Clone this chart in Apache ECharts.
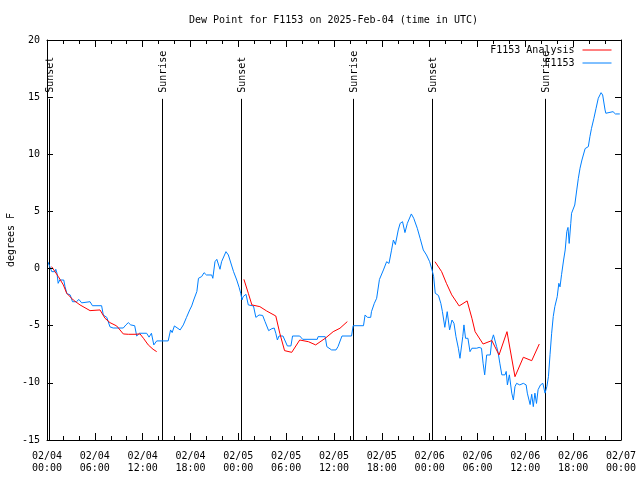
<!DOCTYPE html>
<html><head><meta charset="utf-8">
<script src="https://cdn.jsdelivr.net/npm/echarts@6/dist/echarts.min.js"></script>
<style>html,body{margin:0;padding:0;background:#fff}#c{width:640px;height:480px}</style>
</head><body><div id="c"></div>
<script>
// hours since 2025-02-04 00:00 UTC
const xTickLabels = ['02/04\n00:00','02/04\n06:00','02/04\n12:00','02/04\n18:00','02/05\n00:00','02/05\n06:00','02/05\n12:00','02/05\n18:00','02/06\n00:00','02/06\n06:00','02/06\n12:00','02/06\n18:00','02/07\n00:00'];
const sunHours = [0.25, 14.43, 24.3, 38.42, 48.3, 62.47];
const sunNames = ['Sunset','Sunrise','Sunset','Sunrise','Sunset','Sunrise'];
const obsData = [
[0.1,0.6],[0.35,0.17],[0.6,-0.27],[1.0,-0.27],[1.1,-0.06],[1.25,-0.4],[1.4,-1.29],[1.6,-1.0],[2.1,-1.0],[2.26,-1.58],
[2.5,-2.2],[2.9,-2.3],[3.2,-2.9],[3.7,-2.9],[4.0,-2.7],[4.35,-3.0],[5.4,-2.9],[5.7,-3.25],[6.85,-3.25],[7.06,-4.06],
[7.5,-4.27],[7.9,-5.1],[8.1,-4.93],[8.3,-5.2],[9.57,-5.2],[9.9,-4.93],[10.2,-4.73],[10.5,-4.93],[11.0,-5.0],[11.25,-5.9],
[11.6,-5.66],[12.5,-5.66],[12.8,-6.0],[13.1,-5.66],[13.4,-6.68],[13.76,-6.33],[15.2,-6.33],[15.5,-5.37],[15.7,-5.6],[15.98,-5.02],
[16.7,-5.37],[17.1,-4.93],[17.5,-4.27],[17.9,-3.62],[18.15,-3.27],[18.4,-2.75],[18.8,-2.0],[19.0,-0.85],[19.4,-0.7],[19.7,-0.36],
[20.0,-0.56],[20.66,-0.56],[20.8,-0.85],[21.07,0.6],[21.3,0.81],[21.7,-0.06],[21.9,0.6],[22.45,1.48],[22.75,1.19],[23.0,1.1],
[23.4,-0.27],[23.8,-1.0],[24.1,-1.65],[24.3,-2.16],[24.46,-2.75],[24.6,-2.46],[24.96,-2.25],[25.25,-3.18],[25.9,-3.27],[26.2,-4.27],
[26.6,-4.06],[27.05,-4.1],[27.35,-4.64],[27.8,-5.43],[28.2,-5.26],[28.5,-5.2],[28.7,-5.66],[28.9,-6.25],[29.1,-5.9],[29.6,-5.9],
[30.15,-6.77],[30.6,-6.77],[30.8,-5.9],[31.7,-5.9],[32.07,-6.19],[33.9,-6.19],[34.0,-5.96],[34.9,-5.96],[35.1,-6.83],[35.7,-7.12],
[36.25,-7.12],[36.5,-6.83],[37.0,-5.9],[38.2,-5.9],[38.4,-5.0],[39.7,-5.0],[39.9,-4.06],[40.2,-4.27],[40.6,-4.27],[40.7,-3.77],
[41.06,-3.04],[41.35,-2.6],[41.7,-0.95],[42.2,-0.12],[42.6,0.6],[42.9,0.45],[43.2,1.55],[43.45,2.5],[43.7,2.1],[44.06,3.38],
[44.3,3.96],[44.6,4.1],[44.9,3.15],[45.2,3.96],[45.4,4.0],[45.7,4.78],[46.0,4.4],[46.45,3.52],[46.8,2.65],[47.2,1.63],
[47.6,1.19],[48.0,0.6],[48.3,-0.12],[48.5,-0.7],[48.7,-2.16],[49.1,-2.35],[49.4,-3.04],[49.6,-3.77],[49.9,-5.14],[50.2,-3.77],
[50.5,-5.37],[50.8,-4.5],[51.05,-4.79],[51.3,-5.96],[51.6,-6.97],[51.8,-7.85],[52.0,-7.85],[52.15,-5.96],[52.3,-4.93],[52.5,-6.1],
[52.8,-6.1],[53.06,-7.27],[53.3,-6.97],[53.9,-6.97],[54.2,-6.9],[54.5,-6.97],[54.7,-8.28],[54.9,-9.3],[55.15,-7.56],[55.35,-7.7],
[55.6,-7.56],[55.8,-6.25],[56.0,-5.8],[56.2,-5.8],[56.4,-6.83],[56.6,-7.4],[56.8,-8.28],[57.05,-9.3],[57.45,-9.3],[57.6,-9.0],
[57.75,-10.18],[58.0,-9.3],[58.3,-10.9],[58.5,-11.5],[58.7,-10.33],[58.9,-10.04],[59.3,-10.18],[59.75,-10.04],[60.1,-10.18],[60.25,-10.9],
[60.6,-11.9],[60.8,-11.0],[61.0,-12.08],[61.2,-10.9],[61.4,-11.8],[61.6,-10.6],[61.9,-10.18],[62.2,-10.04],[62.35,-10.18],[62.47,-10.9],
[62.7,-10.33],[62.9,-9.46],[63.1,-7.5],[63.3,-5.66],[63.5,-4.2],[63.7,-3.33],[64.0,-2.46],[64.2,-1.29],[64.35,-1.6],[64.55,-0.5],
[64.8,0.75],[65.0,1.63],[65.2,3.23],[65.35,3.6],[65.5,2.2],[65.7,3.96],[65.8,4.84],[66.2,5.56],[66.45,6.88],[66.65,7.9],
[66.86,8.78],[67.1,9.5],[67.25,9.4],[67.5,10.5],[67.9,10.67],[68.1,11.54],[68.3,12.27],[68.6,13.15],[68.87,14.02],[69.15,14.9],
[69.5,15.39],[69.7,15.19],[70.0,13.88],[70.1,13.59],[70.3,13.73],[71.0,13.73],[71.3,13.53],[71.85,13.53]
];
const anaSeg1 = [[0.58,0.17],[1.42,-0.7],[2.05,-1.43],[2.47,-2.16],[3.3,-2.75],[4.14,-3.18],[5.4,-3.68],[6.65,-3.62],[7.28,-4.35],[7.9,-4.73],[8.74,-5.02],[9.57,-5.72],[10.2,-5.75],[11.04,-5.75],[11.67,-5.72],[12.1,-6.1],[12.7,-6.68],[13.3,-7.06],[13.76,-7.27]];
const anaSeg2 = [[24.7,-0.94],[25.25,-2.16],[25.7,-3.18],[26.7,-3.33],[27.55,-3.71],[28.7,-4.15],[29.2,-5.66],[29.8,-7.18],[30.7,-7.33],[31.7,-6.25],[32.8,-6.4],[33.7,-6.68],[34.9,-6.1],[35.9,-5.52],[36.75,-5.22],[37.67,-4.64]];
const anaSeg3 = [[48.67,0.6],[49.5,-0.27],[50.1,-1.29],[50.77,-2.3],[51.7,-3.27],[52.7,-2.83],[53.3,-4.35],[53.7,-5.52],[54.7,-6.6],[55.8,-6.3],[56.7,-7.56],[57.7,-5.52],[58.7,-9.46],[59.75,-7.76],[60.8,-8.06],[61.75,-6.6]];

const FONT = 'DejaVu Sans Mono';
const anaData = [].concat(anaSeg1, [[19, null]], anaSeg2, [[43, null]], anaSeg3);
const chart = echarts.init(document.getElementById('c'));
function xAxisOpt(pos, showLabel) {
  return {
    type: 'value', min: 0, max: 72, interval: 6, position: pos, z: 5,
    axisLine: {show: true, onZero: false, lineStyle: {color: '#000'}},
    axisTick: {show: true, inside: true, length: 7, lineStyle: {color: '#000'}},
    minorTick: {show: true, splitNumber: 3, length: 4, lineStyle: {color: '#000'}},
    splitLine: {show: false},
    axisLabel: showLabel ? {show: true, margin: 10, color: '#000', fontFamily: FONT, fontSize: 10, lineHeight: 12,
        formatter: v => xTickLabels[Math.round(v / 6)]} : {show: false}
  };
}
function yAxisOpt(pos, showLabel) {
  const o = {
    type: 'value', min: -15, max: 20, interval: 5, position: pos, z: 5,
    axisLine: {show: true, onZero: false, lineStyle: {color: '#000'}},
    axisTick: {show: true, inside: true, length: 6, lineStyle: {color: '#000'}},
    splitLine: {show: false},
    axisLabel: showLabel ? {show: true, margin: 7, color: '#000', fontFamily: FONT, fontSize: 10} : {show: false}
  };
  if (showLabel) {
    o.name = 'degrees F'; o.nameLocation = 'middle'; o.nameGap = 31; o.nameRotate = 90; o.nameMoveOverlap = false;
    o.nameTextStyle = {fontFamily: FONT, fontSize: 10, color: '#000'};
  }
  return o;
}
chart.setOption({
  animation: false,
  backgroundColor: '#fff',
  title: {text: 'Dew Point for F1153 on 2025-Feb-04 (time in UTC)', left: 184, top: 10,
    textStyle: {fontFamily: FONT, fontSize: 10, fontWeight: 'normal', color: '#000'}},
  legend: {
    orient: 'vertical', right: 28, top: 45, padding: 0, align: 'right', itemWidth: 29, itemHeight: 10, itemGap: 3,
    itemStyle: {opacity: 0},
    lineStyle: {width: 1},
    textStyle: {fontFamily: FONT, fontSize: 10, color: '#000', padding: [0, 3, 0, 0]},
    data: [{name: 'F1153 Analysis'}, {name: 'F1153'}]
  },
  grid: {left: 47, right: 19, top: 40, bottom: 40, outerBoundsMode: 'none'},
  xAxis: [xAxisOpt('bottom', true), xAxisOpt('top', false)],
  yAxis: [yAxisOpt('left', true), yAxisOpt('right', false)],
  series: [
    {
      type: 'custom', name: 'sun', xAxisIndex: 0, yAxisIndex: 0, silent: true, z: 1,
      data: sunHours.map((h, i) => [h, i]),
      encode: {x: 0, y: 1},
      renderItem: function (params, api) {
        const h = api.value(0);
        const nm = sunNames[api.value(1)];
        const p0 = api.coord([h, -15]);
        const p1 = api.coord([h, 14.85]);
        const x = Math.round(p0[0]) + 0.5;
        return {type: 'group', children: [
          {type: 'line', shape: {x1: x, y1: p0[1], x2: x, y2: p1[1]}, style: {stroke: '#000', lineWidth: 1}},
          {type: 'text', x: x + 1, y: p1[1] - 6, rotation: Math.PI / 2,
            style: {text: nm, fill: '#000', font: '10px "' + FONT + '"', align: 'left', verticalAlign: 'middle'}}
        ]};
      }
    },
    {
      type: 'line', name: 'F1153 Analysis', data: anaData, symbol: 'none', connectNulls: false, z: 3,
      lineStyle: {color: '#ff0000', width: 1}, itemStyle: {color: '#ff0000'}
    },
    {
      type: 'line', name: 'F1153', data: obsData, symbol: 'none', z: 2,
      lineStyle: {color: '#0080ff', width: 1}, itemStyle: {color: '#0080ff'}
    }
  ]
});
</script></body></html>
